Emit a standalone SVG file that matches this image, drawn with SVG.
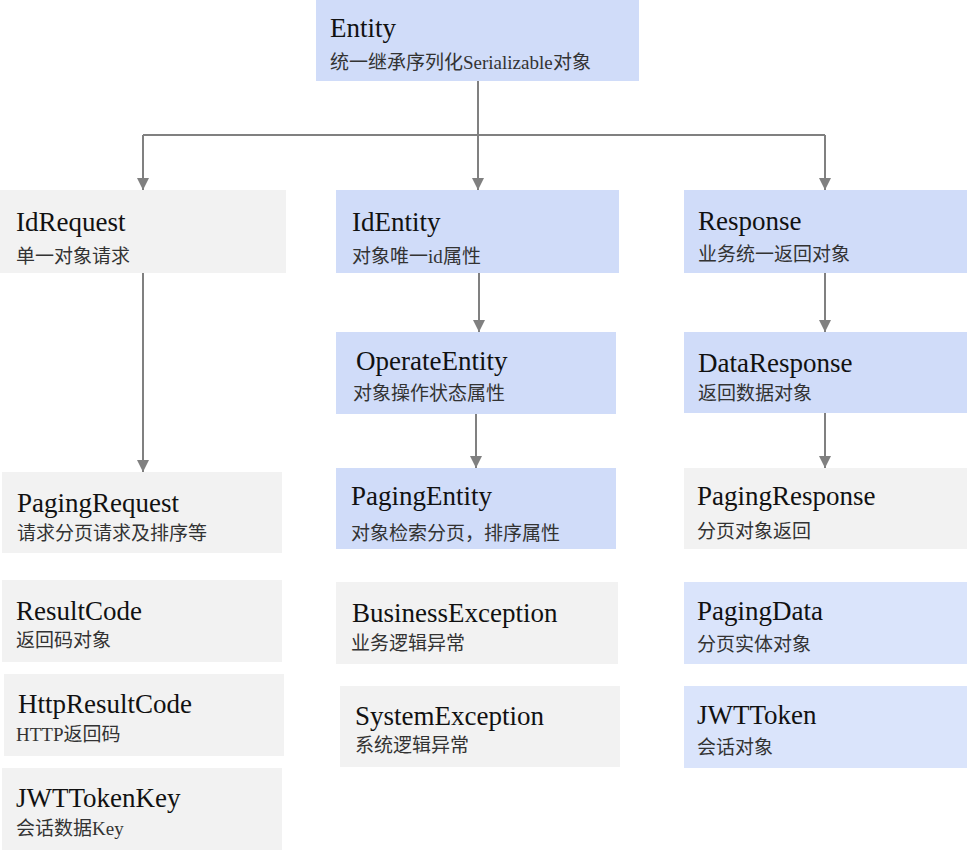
<svg xmlns="http://www.w3.org/2000/svg" width="980" height="850" viewBox="0 0 980 850">
<style>
.blue{fill:#d0dcf9}
.lblue{fill:#dae4fb}
.gray{fill:#f2f2f2}
.t{font-family:"Liberation Serif","Noto Sans CJK SC",serif;font-size:27px;fill:#111}
.s{font-family:"Liberation Serif","Noto Sans CJK SC",serif;font-size:19px;fill:#333}
.l{font-family:"Liberation Serif",serif;font-size:19px;fill:#333}
.c{stroke:#808080;stroke-width:2;fill:none}
</style>
<defs>
<marker id="ah" markerWidth="12" markerHeight="12" refX="12" refY="6" orient="auto" markerUnits="userSpaceOnUse">
<path d="M0,0 L12,6 L0,12 Z" fill="#808080"/>
</marker>
</defs>
<rect width="980" height="850" fill="#fff"/>
<g id="connectors">
<path class="c" d="M478,81 V135"/>
<path class="c" d="M143,135 H825"/>
<path class="c" d="M143,135 V190" marker-end="url(#ah)"/>
<path class="c" d="M478,135 V190" marker-end="url(#ah)"/>
<path class="c" d="M825,135 V190" marker-end="url(#ah)"/>
<path class="c" d="M143,273 V472" marker-end="url(#ah)"/>
<path class="c" d="M479,273 V332" marker-end="url(#ah)"/>
<path class="c" d="M476,414 V468" marker-end="url(#ah)"/>
<path class="c" d="M825,273 V332" marker-end="url(#ah)"/>
<path class="c" d="M825,413 V468" marker-end="url(#ah)"/>
</g>
<g id="Entity"><rect class="blue" x="316" y="0" width="323" height="81"/><text class="t" x="330" y="37">Entity</text><text class="s" x="330" y="69">统一继承序列化</text><text class="l" x="463" y="69">Serializable</text><text class="s" x="553" y="69">对象</text></g>
<g id="IdRequest"><rect class="gray" x="0" y="190" width="286" height="83"/><text class="t" x="16" y="231">IdRequest</text><text class="s" x="16" y="263">单一对象请求</text></g>
<g id="IdEntity"><rect class="blue" x="336" y="190" width="283" height="83"/><text class="t" x="352" y="231">IdEntity</text><text class="s" x="352" y="263">对象唯一</text><text class="l" x="428" y="263">id</text><text class="s" x="443" y="263">属性</text></g>
<g id="Response"><rect class="blue" x="684" y="190" width="283" height="83"/><text class="t" x="698" y="230">Response</text><text class="s" x="698" y="261">业务统一返回对象</text></g>
<g id="OperateEntity"><rect class="blue" x="336" y="332" width="280" height="82"/><text class="t" x="356" y="370">OperateEntity</text><text class="s" x="353" y="400">对象操作状态属性</text></g>
<g id="DataResponse"><rect class="blue" x="684" y="332" width="283" height="81"/><text class="t" x="698" y="372">DataResponse</text><text class="s" x="698" y="400">返回数据对象</text></g>
<g id="PagingRequest"><rect class="gray" x="2" y="472" width="280" height="81"/><text class="t" x="17" y="512">PagingRequest</text><text class="s" x="17" y="540">请求分页请求及排序等</text></g>
<g id="PagingEntity"><rect class="blue" x="336" y="468" width="280" height="81"/><text class="t" x="351" y="505">PagingEntity</text><text class="s" x="351" y="540">对象检索分页，排序属性</text></g>
<g id="PagingResponse"><rect class="gray" x="684" y="468" width="283" height="81"/><text class="t" x="697" y="505">PagingResponse</text><text class="s" x="697" y="538">分页对象返回</text></g>
<g id="ResultCode"><rect class="gray" x="2" y="580" width="280" height="82"/><text class="t" x="16" y="620">ResultCode</text><text class="s" x="16" y="647">返回码对象</text></g>
<g id="HttpResultCode"><rect class="gray" x="4" y="674" width="280" height="82"/><text class="t" x="18" y="713">HttpResultCode</text><text class="s" x="16" y="741"><tspan class="l">HTTP</tspan>返回码</text></g>
<g id="JWTTokenKey"><rect class="gray" x="2" y="768" width="280" height="82"/><text class="t" x="16" y="807">JWTTokenKey</text><text class="s" x="16" y="835">会话数据<tspan class="l">Key</tspan></text></g>
<g id="BusinessException"><rect class="gray" x="336" y="582" width="282" height="82"/><text class="t" x="352" y="622">BusinessException</text><text class="s" x="351" y="650">业务逻辑异常</text></g>
<g id="SystemException"><rect class="gray" x="340" y="686" width="280" height="81"/><text class="t" x="355" y="725">SystemException</text><text class="s" x="355" y="752">系统逻辑异常</text></g>
<g id="PagingData"><rect class="lblue" x="684" y="582" width="283" height="82"/><text class="t" x="697" y="620">PagingData</text><text class="s" x="697" y="651">分页实体对象</text></g>
<g id="JWTToken"><rect class="lblue" x="684" y="686" width="283" height="82"/><text class="t" x="697" y="724">JWTToken</text><text class="s" x="697" y="754">会话对象</text></g>
</svg>
